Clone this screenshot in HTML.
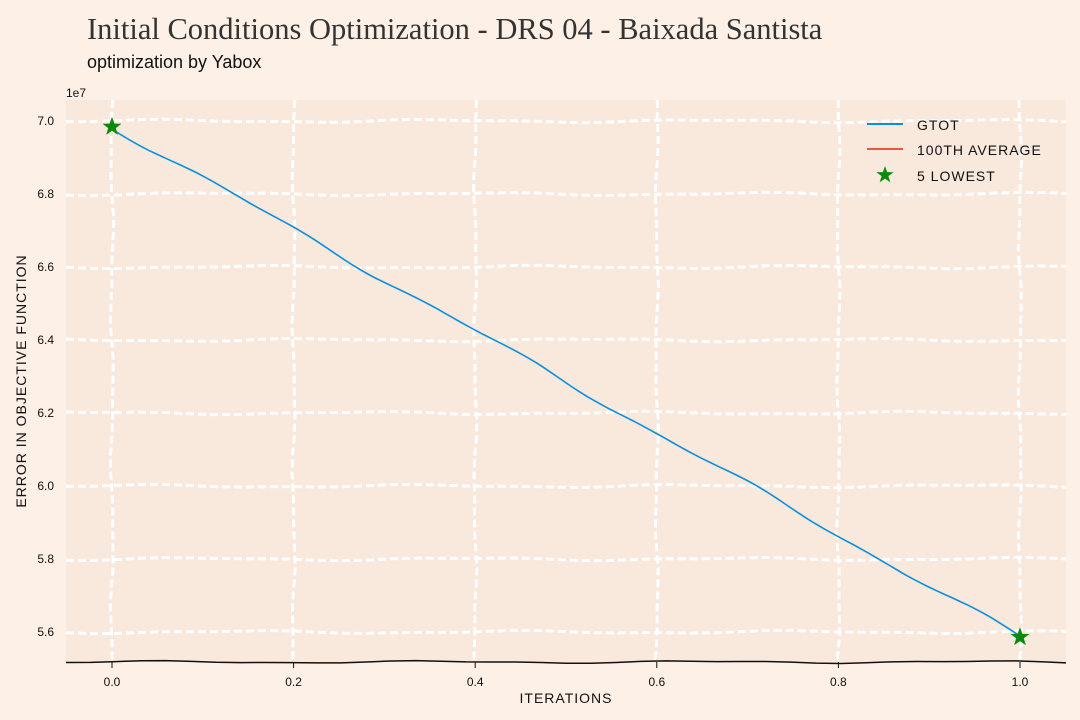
<!DOCTYPE html>
<html><head><meta charset="utf-8">
<style>
body{margin:0;background:#fdf0e6;width:1080px;height:720px;overflow:hidden;font-family:"Liberation Sans",sans-serif}
svg{position:absolute;left:0;top:0}
</style></head>
<body>
<svg id="chart" width="1080" height="720">
<text x="87" y="39" font-family="Liberation Serif, serif" font-size="30.5" fill="#333">Initial Conditions Optimization - DRS 04 - Baixada Santista</text>
<text x="87" y="68" font-size="18" fill="#111">optimization by Yabox</text>
<rect x="66" y="100" width="1000" height="562" fill="#f9e8dc"/>
<g id="grid"></g>
<g id="axes"></g>
<g id="series"></g>
<g id="legend"></g>
</svg>
<script>
const xVals=[0,1];
const gtot=[6.984e7,5.586e7];
const lowestX=[0,1];
const lowestY=[6.984e7,5.586e7];
const xTicks=[0,0.2,0.4,0.6,0.8,1.0];
const xTickLabels=["0.0","0.2","0.4","0.6","0.8","1.0"];
const yTicks=[5.6e7,5.8e7,6.0e7,6.2e7,6.4e7,6.6e7,6.8e7,7.0e7];
const yTickLabels=["5.6","5.8","6.0","6.2","6.4","6.6","6.8","7.0"];
const NS="http://www.w3.org/2000/svg";
const sx=v=>112+v*908;
const sy=v=>121+(7.0e7-v)/0.2e7*73;
function mk(tag,attrs,parent){const e=document.createElementNS(NS,tag);for(const k in attrs)e.setAttribute(k,attrs[k]);parent.appendChild(e);return e;}
const grid=document.getElementById('grid'),axes=document.getElementById('axes'),series=document.getElementById('series'),legend=document.getElementById('legend');
function wig(x1,y1,x2,y2,amp,n){let d="";for(let i=0;i<=n;i++){const t=i/n;const w=amp*Math.sin(t*23+x1*0.1+y1*0.07)+amp*0.5*Math.sin(t*51);const dx=x2-x1,dy=y2-y1,L=Math.hypot(dx,dy);const nx=-dy/L,ny=dx/L;d+=(i?"L":"M")+(x1+dx*t+nx*w).toFixed(1)+","+(y1+dy*t+ny*w).toFixed(1);}return d;}
xTicks.forEach((v,i)=>{
 const g=mk('path',{d:wig(sx(v),100,sx(v),662,1.2,30),stroke:'#fff','stroke-width':3,'stroke-dasharray':'8 4',fill:'none'},grid);
 
 const t=mk('text',{x:sx(v),y:686,'text-anchor':'middle','font-size':12,fill:'#111'},axes);t.textContent=xTickLabels[i];
 
 mk('line',{x1:sx(v),y1:662,x2:sx(v),y2:668,stroke:'#111','stroke-width':1},axes);
});
yTicks.forEach((v,i)=>{
 const g=mk('path',{d:wig(66,sy(v),1066,sy(v),1.2,40),stroke:'#fff','stroke-width':3,'stroke-dasharray':'8 4',fill:'none'},grid);
 
 const t=mk('text',{x:54,y:sy(v)+4,'text-anchor':'end','font-size':12,fill:'#111'},axes);t.textContent=yTickLabels[i];
 
});
const ax=mk('path',{d:wig(66,662,1066,662,1,40),stroke:'#111','stroke-width':1.5,fill:'none'},axes);

const e7=mk('text',{x:66,y:97,'font-size':12,fill:'#111'},axes);e7.textContent="1e7";

const xt=mk('text',{x:566,y:703,'text-anchor':'middle','font-size':14,fill:'#111','letter-spacing':1},axes);xt.textContent="ITERATIONS";

const yt=mk('text',{x:0,y:0,'text-anchor':'middle','font-size':14,fill:'#111','letter-spacing':1,transform:'translate(26,381) rotate(-90)'},axes);yt.textContent="ERROR IN OBJECTIVE FUNCTION";

let d="";
for(let k=0;k<xVals.length-1;k++){
 const x1=sx(xVals[k]),y1=sy(gtot[k]),x2=sx(xVals[k+1]),y2=sy(gtot[k+1]);
 d+=wig(x1,y1,x2,y2,2,120).replace(k?/^M/:/^$/,k?"L":"");
}
const ln=mk('path',{d:d,stroke:'#0a8fdc','stroke-width':1.6,fill:'none'},series);

function star(cx,cy,r){let p="";for(let i=0;i<10;i++){const a=-Math.PI/2+i*Math.PI/5;const rr=i%2?r*0.4:r;p+=(cx+rr*Math.cos(a)).toFixed(1)+","+(cy+rr*Math.sin(a)).toFixed(1)+" ";}return p;}
lowestX.forEach((v,i)=>{
 const s=mk('polygon',{points:star(sx(v),sy(lowestY[i]),10),fill:'#0a8a0a'},series);
 
});
const l1=mk('line',{x1:867,y1:124,x2:903,y2:124,stroke:'#0a8fdc','stroke-width':2},legend);

const l2=mk('line',{x1:867,y1:149,x2:903,y2:149,stroke:'#f0553a','stroke-width':2},legend);

const l3=mk('polygon',{points:star(885,175,9),fill:'#0a8a0a'},legend);

[["GTOT",130],["100TH AVERAGE",155],["5 LOWEST",181]].forEach(([s,y])=>{
 const t=mk('text',{x:917,y:y,'font-size':14,fill:'#111','letter-spacing':1},legend);t.textContent=s;
 
});
</script>
</body></html>
